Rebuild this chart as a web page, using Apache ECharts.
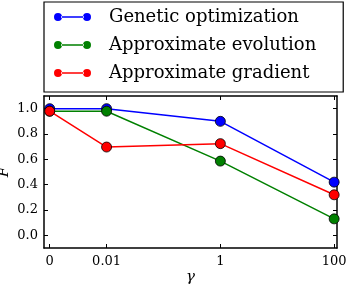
<!DOCTYPE html>
<html><head><meta charset="utf-8">
<script src="https://cdn.jsdelivr.net/npm/echarts@6/dist/echarts.min.js"></script>
<style>html,body{margin:0;padding:0;background:#fff}#c{width:347px;height:284px}</style>
</head><body><div id="c"></div>
<script>
const gammas = [0, 0.01, 1, 100];
const gammaLabels = ['0', '0.01', '1', '100'];
const yTicks = [0.0, 0.2, 0.4, 0.6, 0.8, 1.0];
const seriesNames = ['Genetic optimization', 'Approximate evolution', 'Approximate gradient'];
const genetic = [1.0, 1.0, 0.9, 0.42];
const approxEvolution = [0.98, 0.98, 0.586, 0.13];
const approxGradient = [0.98, 0.697, 0.724, 0.32];
const colors = ['#0000ff', '#008000', '#ff0000'];

// gamma = 0 is drawn one decade left of the smallest nonzero gamma
const gx = g => g === 0 ? -3 : Math.log10(g);
const xTicks = gammas.map(gx);
const font = 'DejaVu Serif';
const values = [genetic, approxEvolution, approxGradient];

const chart = echarts.init(document.getElementById('c'), null, {renderer: 'canvas'});
const icon = 'path://M0,4A4,4 0 1,0 8,4A4,4 0 1,0 0,4ZM7,3.3L30,3.3L30,4.7L7,4.7ZM29,4A4,4 0 1,0 37,4A4,4 0 1,0 29,4Z';
const axisLine = {show: true, onZero: false, lineStyle: {color: '#000', width: 1.5}};
chart.setOption({
  animation: false,
  grid: {left: 44, right: 10, top: 96, bottom: 36, outerBoundsMode: 'none', containLabel: false},
  legend: {
    orient: 'vertical', left: 44, top: 2,
    padding: [6, 27, 10, 10],
    borderColor: '#000', borderWidth: 1.2,
    itemWidth: 37, itemHeight: 8, itemGap: 10,
    icon: icon,
    itemStyle: {borderWidth: 0},
    textStyle: {fontFamily: font, fontSize: 18, color: '#000', padding: [0, 0, 0, 13]},
    data: seriesNames
  },
  xAxis: [{
    type: 'value', min: -3.1, max: 2.05,
    axisLine: axisLine, splitLine: {show: false},
    axisTick: {inside: true, length: 4, customValues: xTicks, lineStyle: {color: '#000'}},
    axisLabel: {customValues: xTicks, margin: 7, fontFamily: font, fontSize: 13, color: '#000',
      formatter: v => gammaLabels[xTicks.indexOf(v)] ?? ''},
    name: 'γ', nameLocation: 'middle', nameGap: 22, nameMoveOverlap: false,
    nameTextStyle: {fontFamily: font, fontSize: 15, color: '#000', fontStyle: 'italic'}
  }, {
    type: 'value', min: -3.1, max: 2.05, position: 'top',
    axisLine: axisLine, splitLine: {show: false},
    axisTick: {inside: true, length: 4, customValues: xTicks, lineStyle: {color: '#000'}},
    axisLabel: {show: false}
  }],
  yAxis: [{
    type: 'value', min: -0.1, max: 1.1,
    axisLine: axisLine, splitLine: {show: false},
    axisTick: {inside: true, length: 4, customValues: yTicks, lineStyle: {color: '#000'}},
    axisLabel: {customValues: yTicks, margin: 6, fontFamily: font, fontSize: 13, color: '#000',
      formatter: v => v.toFixed(1)},
    name: 'F', nameLocation: 'middle', nameGap: 32, nameRotate: 90, nameMoveOverlap: false,
    nameTextStyle: {fontFamily: font, fontSize: 15, color: '#000', fontStyle: 'italic'}
  }, {
    type: 'value', min: -0.1, max: 1.1, position: 'right',
    axisLine: axisLine, splitLine: {show: false},
    axisTick: {inside: true, length: 4, customValues: yTicks, lineStyle: {color: '#000'}},
    axisLabel: {show: false}
  }],
  series: seriesNames.map((name, i) => ({
    name: name, type: 'line', z: 2 + i,
    data: gammas.map((g, j) => [gx(g), values[i][j]]),
    symbol: 'circle', symbolSize: 10,
    lineStyle: {color: colors[i], width: 1.5},
    itemStyle: {color: colors[i], borderColor: '#000', borderWidth: 0.8}
  }))
});
</script></body></html>
